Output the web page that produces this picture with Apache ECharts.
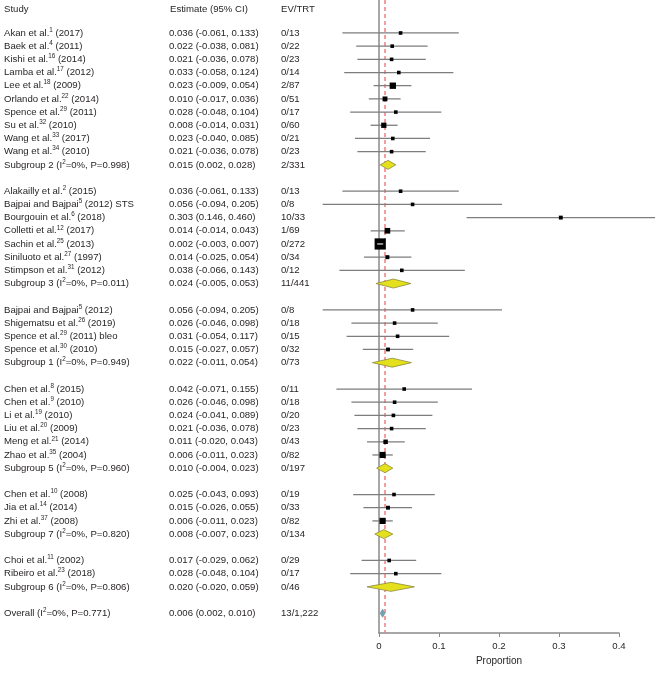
<!DOCTYPE html>
<html>
<head>
<meta charset="utf-8">
<script src="https://cdn.jsdelivr.net/npm/echarts@6/dist/echarts.min.js"></script>
<style>
html,body{margin:0;padding:0;background:#fff;}
#chart{width:658px;height:679px;}
</style>
</head>
<body>
<div id="chart"></div>
<script>
// ---- data (row order top to bottom; null rows are spacer rows) ----
const studyLabels = [
  'Akan et al.^1^ (2017)', 'Baek et al.^4^ (2011)', 'Kishi et al.^16^ (2014)', 'Lamba et al.^17^ (2012)',
  'Lee et al.^18^ (2009)', 'Orlando et al.^22^ (2014)', 'Spence et al.^29^ (2011)', 'Su et al.^32^ (2010)',
  'Wang et al.^33^ (2017)', 'Wang et al.^34^ (2010)', 'Subgroup 2 (I^2^=0%, P=0.998)', null,
  'Alakailly et al.^2^ (2015)', 'Bajpai and Bajpai^5^ (2012) STS', 'Bourgouin et al.^6^ (2018)', 'Colletti et al.^12^ (2017)',
  'Sachin et al.^25^ (2013)', 'Siniluoto et al.^27^ (1997)', 'Stimpson et al.^31^ (2012)', 'Subgroup 3 (I^2^=0%, P=0.011)', null,
  'Bajpai and Bajpai^5^ (2012)', 'Shigematsu et al.^26^ (2019)', 'Spence et al.^29^ (2011) bleo', 'Spence et al.^30^ (2010)',
  'Subgroup 1 (I^2^=0%, P=0.949)', null,
  'Chen et al.^8^ (2015)', 'Chen et al.^9^ (2010)', 'Li et al.^19^ (2010)', 'Liu et al.^20^ (2009)',
  'Meng et al.^21^ (2014)', 'Zhao et al.^35^ (2004)', 'Subgroup 5 (I^2^=0%, P=0.960)', null,
  'Chen et al.^10^ (2008)', 'Jia et al.^14^ (2014)', 'Zhi et al.^37^ (2008)', 'Subgroup 7 (I^2^=0%, P=0.820)', null,
  'Choi et al.^11^ (2002)', 'Ribeiro et al.^23^ (2018)', 'Subgroup 6 (I^2^=0%, P=0.806)', null,
  'Overall (I^2^=0%, P=0.771)'
];
const rowKinds = [
  's','s','s','s','s','s','s','s','s','s','g',null,
  's','s','s','s','s','s','s','g',null,
  's','s','s','s','g',null,
  's','s','s','s','s','s','g',null,
  's','s','s','g',null,
  's','s','g',null,
  'o'
];
const estimates = [
  0.036,0.022,0.021,0.033,0.023,0.010,0.028,0.008,0.023,0.021,0.015,null,
  0.036,0.056,0.303,0.014,0.002,0.014,0.038,0.024,null,
  0.056,0.026,0.031,0.015,0.022,null,
  0.042,0.026,0.024,0.021,0.011,0.006,0.010,null,
  0.025,0.015,0.006,0.008,null,
  0.017,0.028,0.020,null,
  0.006
];
const lowers = [
  -0.061,-0.038,-0.036,-0.058,-0.009,-0.017,-0.048,-0.014,-0.040,-0.036,0.002,null,
  -0.061,-0.094,0.146,-0.014,-0.003,-0.025,-0.066,-0.005,null,
  -0.094,-0.046,-0.054,-0.027,-0.011,null,
  -0.071,-0.046,-0.041,-0.036,-0.020,-0.011,-0.004,null,
  -0.043,-0.026,-0.011,-0.007,null,
  -0.029,-0.048,-0.020,null,
  0.002
];
const uppers = [
  0.133,0.081,0.078,0.124,0.054,0.036,0.104,0.031,0.085,0.078,0.028,null,
  0.133,0.205,0.460,0.043,0.007,0.054,0.143,0.053,null,
  0.205,0.098,0.117,0.057,0.054,null,
  0.155,0.098,0.089,0.078,0.043,0.023,0.023,null,
  0.093,0.055,0.023,0.023,null,
  0.062,0.104,0.059,null,
  0.010
];
const events = [
  0,0,0,0,2,0,0,0,0,0,2,null,
  0,0,10,1,0,0,0,11,null,
  0,0,0,0,0,null,
  0,0,0,0,0,0,0,null,
  0,0,0,0,null,
  0,0,0,null,
  13
];
const totals = [
  13,22,23,14,87,51,17,60,21,23,331,null,
  13,8,33,69,272,34,12,441,null,
  8,18,15,32,73,null,
  11,18,20,23,43,82,197,null,
  19,33,82,134,null,
  29,17,46,null,
  1222
];
const xTicks = [0, 0.1, 0.2, 0.3, 0.4];
const headers = ['Study', 'Estimate (95% CI)', 'EV/TRT'];
const overallEstimate = estimates[estimates.length - 1];

// ---- layout helpers ----
const TOP_PAD = 2, BOTTOM_PAD = 1;
const cats = [];
for (let i = 0; i < TOP_PAD; i++) cats.push('h' + i);
for (let i = 0; i < studyLabels.length; i++) cats.push('r' + i);
for (let i = 0; i < BOTTOM_PAD; i++) cats.push('f' + i);

const FONT = 'Liberation Sans, Arial, sans-serif';
const FS = 9.6;
const TXT = '#231f20';
const rich = {
  t: {fontSize: FS, fontFamily: FONT, color: TXT, lineHeight: 12},
  s: {fontSize: 6.3, fontFamily: FONT, color: TXT, lineHeight: 7, verticalAlign: 'top'}
};
function richLabel(str) {
  const parts = str.split('^');
  let out = '';
  parts.forEach((p, k) => { if (p !== '') out += '{' + (k % 2 ? 's' : 't') + '|' + p + '}'; });
  return out;
}
const f3 = v => v.toFixed(3);
function rowIdx(index) { const r = index - TOP_PAD; return (r >= 0 && r < studyLabels.length) ? r : -1; }

const studyData = [], groupData = [], overallData = [];
studyLabels.forEach((lab, i) => {
  if (rowKinds[i] == null) return;
  const d = [estimates[i], 'r' + i, lowers[i], uppers[i], totals[i]];
  if (rowKinds[i] === 's') studyData.push(d);
  else if (rowKinds[i] === 'g') groupData.push(d);
  else overallData.push(d);
});

function pts(api) {
  const yv = api.value(1);
  return {
    e: api.coord([api.value(0), yv]),
    l: api.coord([api.value(2), yv]),
    h: api.coord([api.value(3), yv])
  };
}
function renderStudy(params, api) {
  const p = pts(api);
  const s = Math.max(3.6, 0.68 * Math.sqrt(api.value(4)));
  const inside = (p.l[0] > p.e[0] - s / 2) && (p.h[0] < p.e[0] + s / 2);
  const children = [
    {type: 'line', shape: {x1: p.l[0], y1: p.l[1], x2: p.h[0], y2: p.h[1]}, style: {stroke: '#7d7d7d', lineWidth: 1.3}},
    {type: 'rect', shape: {x: p.e[0] - s / 2, y: p.e[1] - s / 2, width: s, height: s}, style: {fill: '#000'}}
  ];
  if (inside) {
    children.push({type: 'line', shape: {x1: p.l[0], y1: p.l[1], x2: p.h[0], y2: p.h[1]}, style: {stroke: '#e6e6e6', lineWidth: 1.2}});
  }
  return {type: 'group', children: children};
}
function diamond(fill, stroke, hh) {
  return function (params, api) {
    const p = pts(api);
    return {type: 'polygon', shape: {points: [
      [p.l[0], p.e[1]], [p.e[0], p.e[1] - hh], [p.h[0], p.e[1]], [p.e[0], p.e[1] + hh]
    ]}, style: {fill: fill, stroke: stroke, lineWidth: 0.8}};
  };
}

const yAxisBase = {
  type: 'category', data: cats, inverse: true, position: 'left',
  axisTick: {show: false}, splitLine: {show: false}
};

const option = {
  animation: false,
  backgroundColor: '#fff',
  grid: {left: 379, right: 39, top: 0, bottom: 46, containLabel: false},
  graphic: [
    {type: 'text', left: 4, top: 4, style: {text: headers[0], font: FS + 'px ' + FONT, fill: TXT}},
    {type: 'text', left: 170, top: 4, style: {text: headers[1], font: FS + 'px ' + FONT, fill: TXT}},
    {type: 'text', left: 281, top: 4, style: {text: headers[2], font: FS + 'px ' + FONT, fill: TXT}}
  ],
  xAxis: {
    type: 'value', min: 0, max: 0.4, interval: 0.1,
    axisLine: {show: true, lineStyle: {color: '#8a8a8a', width: 1.5}},
    axisTick: {show: true, length: 4, lineStyle: {color: '#8a8a8a', width: 1}},
    axisLabel: {fontSize: FS, fontFamily: FONT, color: TXT, margin: 8,
      formatter: v => (xTicks.some(t => Math.abs(t - v) < 1e-9) ? String(+v.toFixed(1)) : '')},
    splitLine: {show: false},
    name: 'Proportion', nameLocation: 'middle', nameGap: 23,
    nameTextStyle: {fontSize: FS + 0.4, fontFamily: FONT, color: TXT}
  },
  yAxis: [
    Object.assign({}, yAxisBase, {
      axisLine: {show: true, lineStyle: {color: '#8a8a8a', width: 1.5}},
      axisLabel: {interval: 0, align: 'left', margin: 375, rich: rich,
        formatter: (v, idx) => { const r = rowIdx(idx); return (r < 0 || !studyLabels[r]) ? '' : richLabel(studyLabels[r]); }}
    }),
    Object.assign({}, yAxisBase, {
      axisLine: {show: false},
      axisLabel: {interval: 0, align: 'left', margin: 210, fontSize: FS, fontFamily: FONT, color: TXT,
        formatter: (v, idx) => { const r = rowIdx(idx); return (r < 0 || estimates[r] == null) ? '' : f3(estimates[r]) + ' (' + f3(lowers[r]) + ', ' + f3(uppers[r]) + ')'; }}
    }),
    Object.assign({}, yAxisBase, {
      axisLine: {show: false},
      axisLabel: {interval: 0, align: 'left', margin: 98, fontSize: FS, fontFamily: FONT, color: TXT,
        formatter: (v, idx) => { const r = rowIdx(idx); return (r < 0 || totals[r] == null) ? '' : events[r] + '/' + totals[r].toLocaleString('en-US'); }}
    })
  ],
  series: [
    {
      type: 'custom', name: 'overall line', data: [], renderItem: () => null, z: 1, zlevel: 0,
      markLine: {silent: true, symbol: 'none', label: {show: false}, z: 1,
        lineStyle: {color: '#f08080', type: [4, 3], width: 1.5},
        data: [{xAxis: overallEstimate}]}
    },
    {type: 'custom', name: 'studies', data: studyData, renderItem: renderStudy,
      encode: {x: [0, 2, 3], y: 1}, clip: false, z: 5},
    {type: 'custom', name: 'subgroups', data: groupData, renderItem: diamond('#e4e11c', '#8c8a3a', 4.5),
      encode: {x: [0, 2, 3], y: 1}, clip: false, z: 6},
    {type: 'custom', name: 'overall', data: overallData, renderItem: diamond('#6aa6b8', '#7f8f95', 4),
      encode: {x: [0, 2, 3], y: 1}, clip: false, z: 6}
  ]
};

const chart = echarts.init(document.getElementById('chart'), null, {renderer: 'canvas'});
chart.setOption(option);
</script>
</body>
</html>
